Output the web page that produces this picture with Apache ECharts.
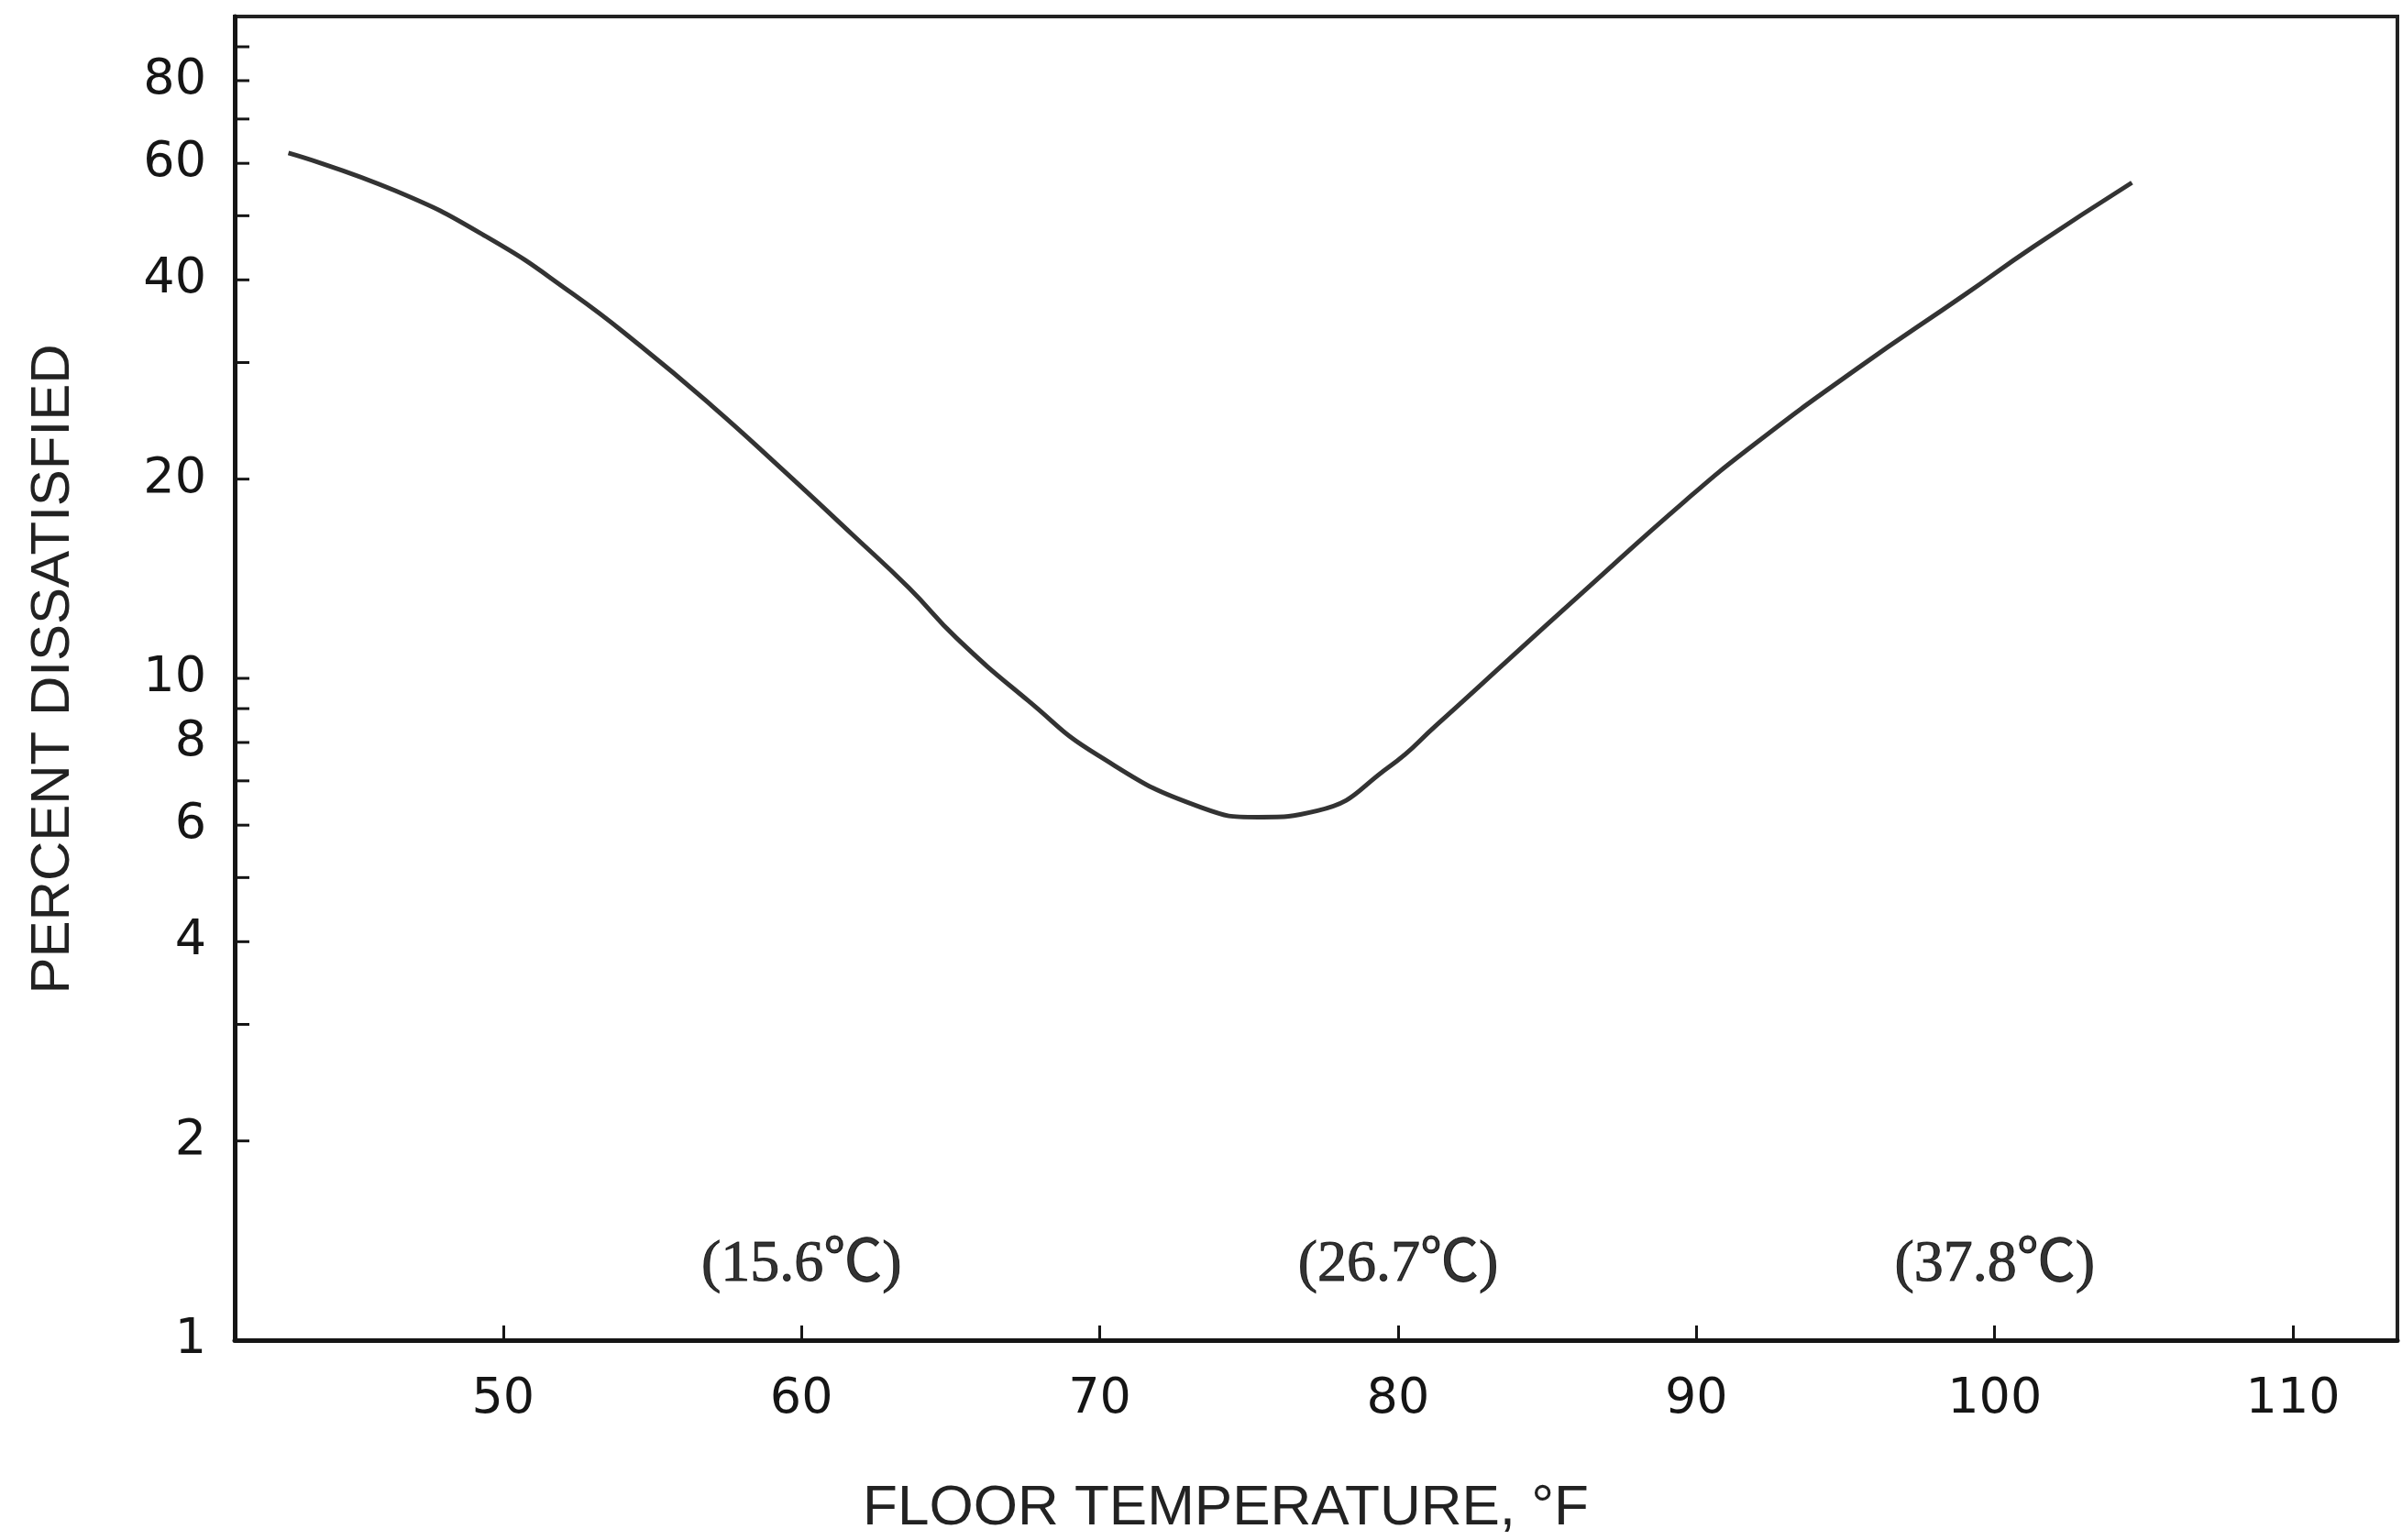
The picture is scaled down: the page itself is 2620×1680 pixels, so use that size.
<!DOCTYPE html>
<html><head><meta charset="utf-8">
<script src="https://cdn.jsdelivr.net/npm/echarts@6/dist/echarts.min.js"></script>
<style>html,body{margin:0;padding:0;background:#fff;} #c{width:2620px;height:1680px;}</style>
</head><body><div id="c"></div>
<script>
// Floor temperature (°F) and percent dissatisfied
const tempF = [42.8, 46.4, 49.5, 52.3, 54.6, 57.0, 59.3, 61.7, 63.6, 65.2, 67.6, 69.9, 73.4, 75.3, 77.3, 79.7, 81.3, 83.7, 86.2, 89.6, 91.9, 95.4, 99.0, 101.3, 104.6];
const pctDissatisfied = [62.2, 54.5, 46.3, 38.2, 31.8, 25.8, 20.8, 16.5, 13.7, 11.5, 9.25, 7.67, 6.38, 6.17, 6.31, 7.35, 8.51, 10.67, 13.5, 18.5, 22.5, 29.4, 38.0, 44.9, 56.1];
// Axis ticks / labels
const xTickValues = [50, 60, 70, 80, 90, 100, 110];
const yTickValues = [2, 3, 4, 5, 6, 7, 8, 9, 10, 20, 30, 40, 50, 60, 70, 80, 90];
const yLabelValues = [1, 2, 4, 6, 8, 10, 20, 40, 60, 80];
// Celsius annotations
const celsiusLabels = ['(15.6℃)', '(26.7℃)', '(37.8℃)'];
const celsiusAtF = [60, 80, 100];
const celsiusLabelY = 1.3;

const X_MIN = 41, X_MAX = 113.5;
const INK = '#151515';

const yMarkValues = Array.from(new Set(yLabelValues.concat(yTickValues))).sort((a, b) => a - b);

const chart = echarts.init(document.getElementById('c'), null, {renderer: 'canvas'});
chart.setOption({
  animation: false,
  backgroundColor: '#ffffff',
  grid: {left: 256, right: 5, top: 18, bottom: 218, show: true, borderColor: '#222', borderWidth: 4, containLabel: false, outerBoundsMode: 'none'},
  xAxis: {
    type: 'value', min: X_MIN, max: X_MAX,
    axisLine: {show: true, onZero: false, lineStyle: {color: INK, width: 5}},
    axisTick: {show: true, inside: true, length: 16, customValues: xTickValues, lineStyle: {color: INK, width: 3}},
    axisLabel: {show: true, customValues: xTickValues, margin: 38, fontSize: 54, fontFamily: 'DejaVu Sans', color: INK},
    splitLine: {show: false}
  },
  yAxis: {
    type: 'log', logBase: 10, min: 1, max: 100,
    axisLine: {show: true, onZero: false, lineStyle: {color: INK, width: 5}},
    axisTick: {show: false},
    axisLabel: {show: false},
    splitLine: {show: false},
    minorTick: {show: false}
  },
  series: [
    {
      type: 'line',
      data: tempF.map((x, i) => [x, pctDissatisfied[i]]),
      smooth: 0.5,
      showSymbol: false,
      lineStyle: {color: '#333', width: 5},
      z: 3
    },
    {
      type: 'custom',
      coordinateSystem: 'cartesian2d',
      clip: false,
      silent: true,
      data: yMarkValues.map(v => [X_MIN, v]),
      renderItem: function (params, api) {
        const v = api.value(1);
        const p = api.coord([api.value(0), v]);
        const children = [];
        if (yTickValues.indexOf(v) >= 0) {
          children.push({type: 'line', shape: {x1: p[0], y1: p[1], x2: p[0] + 16, y2: p[1]}, style: {stroke: INK, lineWidth: 3}});
        }
        if (yLabelValues.indexOf(v) >= 0) {
          children.push({type: 'text', style: {text: String(v), x: p[0] - 31, y: p[1], align: 'right', verticalAlign: 'middle', font: '54px "DejaVu Sans"', fill: INK}});
        }
        return {type: 'group', children: children};
      },
      z: 4
    },
    {
      type: 'scatter',
      data: celsiusAtF.map((x, i) => ({value: [x, celsiusLabelY], name: celsiusLabels[i]})),
      symbolSize: 1,
      itemStyle: {color: 'rgba(0,0,0,0)'},
      label: {show: true, position: 'inside', formatter: '{b}', fontFamily: '"Liberation Serif", "Noto Sans CJK JP", serif', fontSize: 64, color: '#000', textBorderColor: '#000', textBorderWidth: 1},
      silent: true,
      z: 5
    }
  ],
  graphic: [
    {type: 'text', x: 58, y: 730, rotation: Math.PI / 2, style: {text: 'PERCENT DISSATISFIED', font: '60px "Liberation Sans"', fill: '#222', align: 'center', verticalAlign: 'middle'}},
    {type: 'text', x: 1337, y: 1646, style: {text: 'FLOOR TEMPERATURE, °F', font: '62px "Liberation Sans"', fill: '#222', align: 'center', verticalAlign: 'middle'}}
  ]
});
</script>
</body></html>
